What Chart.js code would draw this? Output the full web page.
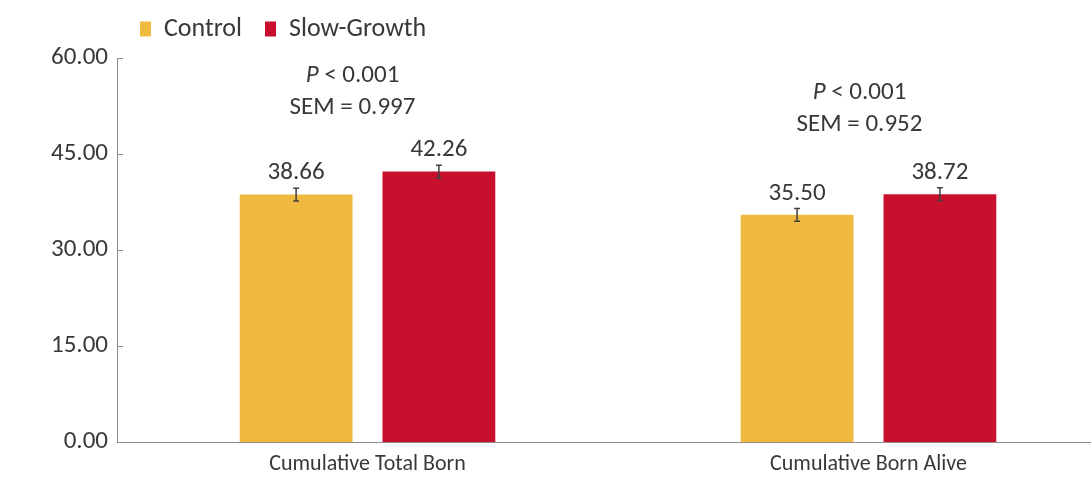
<!DOCTYPE html>
<html>
<head>
<meta charset="utf-8">
<script src="https://cdn.jsdelivr.net/npm/chart.js@4.4.1/dist/chart.umd.min.js"></script>
<style>
    html, body { margin: 0; padding: 0; background: #fff; overflow: hidden; }
    #wrap { width: 1125px; height: 486px; }
</style>
</head>
<body>
<div id="wrap"><canvas id="myChart" width="1125" height="486"></canvas></div>
<script>
// chart values
var categories = ["Cumulative Total Born", "Cumulative Born Alive"];
var seriesNames = ["Control", "Slow-Growth"];
var controlValues = [38.66, 35.50];
var slowGrowthValues = [42.26, 38.72];
var controlErr = [1.0, 1.0];
var slowGrowthErr = [1.0, 1.0];
var pLabels = ["0.001", "0.001"];
var semLabels = ["SEM = 0.997", "SEM = 0.952"];
var yTicks = [0, 15, 30, 45, 60];

var FONT = "Carlito, Lato, sans-serif";
var TEXT = "#383838";

// error bars + value labels above each bar
var barExtras = {
    id: "barExtras",
    afterDatasetsDraw: function (chart) {
        var ctx = chart.ctx;
        var y = chart.scales.y;
        var errs = [controlErr, slowGrowthErr];
        ctx.save();
        chart.data.datasets.forEach(function (ds, di) {
            chart.getDatasetMeta(di).data.forEach(function (bar, i) {
                var v = ds.data[i];
                var top = y.getPixelForValue(v + errs[di][i]);
                var bot = y.getPixelForValue(v - errs[di][i]);
                ctx.strokeStyle = "#404040";
                ctx.lineWidth = 1.5;
                ctx.beginPath();
                ctx.moveTo(bar.x, top); ctx.lineTo(bar.x, bot);
                ctx.moveTo(bar.x - 3, top); ctx.lineTo(bar.x + 3, top);
                ctx.moveTo(bar.x - 3, bot); ctx.lineTo(bar.x + 3, bot);
                ctx.stroke();
                ctx.fillStyle = TEXT;
                ctx.font = "25px " + FONT;
                ctx.textAlign = "center";
                ctx.textBaseline = "middle";
                ctx.fillText(v.toFixed(2), bar.x, top - 15);
            });
        });
        ctx.restore();
    }
};

// P / SEM notes above each group, and inside ticks on the y axis
var notes = {
    id: "notes",
    afterDraw: function (chart) {
        var ctx = chart.ctx;
        var x = chart.scales.x, y = chart.scales.y;
        var lift = [[57.3, 52.2], [54.5, 49.5]];
        var shift = [-15, -9];
        ctx.save();
        ctx.fillStyle = TEXT;
        ctx.textBaseline = "middle";
        categories.forEach(function (c, i) {
            var cx = x.getPixelForValue(i) + shift[i];
            ctx.font = "italic 25px " + FONT;
            var pw = ctx.measureText("P").width;
            ctx.font = "25px " + FONT;
            var rest = " < " + pLabels[i];
            var rw = ctx.measureText(rest).width;
            var sx = cx - (pw + rw) / 2;
            var py = y.getPixelForValue(lift[i][0]);
            ctx.textAlign = "left";
            ctx.font = "italic 25px " + FONT;
            ctx.fillText("P", sx, py);
            ctx.font = "25px " + FONT;
            ctx.fillText(rest, sx + pw, py);
            ctx.textAlign = "center";
            ctx.fillText(semLabels[i], cx, y.getPixelForValue(lift[i][1]));
        });
        ctx.strokeStyle = "#8c8c8c";
        ctx.lineWidth = 1;
        yTicks.forEach(function (t) {
            var py = Math.round(y.getPixelForValue(t)) + 0.5;
            ctx.beginPath();
            ctx.moveTo(y.right, py);
            ctx.lineTo(y.right + 6, py);
            ctx.stroke();
        });
        ctx.restore();
    }
};

// extra room between legend and plot
var legendGap = {
    id: "legendGap",
    beforeInit: function (chart) {
        var fit = chart.legend.fit;
        chart.legend.fit = function () {
            fit.bind(chart.legend)();
            this.height += 6;
        };
    }
};

window.onload = function () {
    var ctx = document.getElementById("myChart").getContext("2d");
    new Chart(ctx, {
        type: "bar",
        data: {
            labels: categories,
            datasets: [
                {
                    label: seriesNames[0],
                    data: controlValues,
                    backgroundColor: "#F0B940"
                },
                {
                    label: seriesNames[1],
                    data: slowGrowthValues,
                    backgroundColor: "#C8102E"
                }
            ]
        },
        options: {
            responsive: false,
            animation: false,
            categoryPercentage: 0.57,
            barPercentage: 0.79,
            layout: { padding: { left: 0, right: 6, top: -7, bottom: 0 } },
            plugins: {
                tooltip: { enabled: false },
                legend: {
                    position: "top",
                    align: "start",
                    fullSize: false,
                    labels: {
                        color: TEXT,
                        font: { family: FONT, size: 26 },
                        boxWidth: 11,
                        boxHeight: 15,
                        padding: 23
                    }
                }
            },
            scales: {
                x: {
                    afterFit: function (s) { s.height = 44; },
                    grid: { display: false, drawTicks: false },
                    border: { color: "#8c8c8c" },
                    ticks: {
                        color: TEXT,
                        padding: 9,
                        font: { family: FONT, size: 22 }
                    }
                },
                y: {
                    min: 0,
                    max: 60,
                    afterFit: function (s) { s.width = 117; },
                    afterBuildTicks: function (s) {
                        s.ticks = yTicks.map(function (v) { return { value: v }; });
                    },
                    grid: { display: false, drawTicks: false },
                    border: { color: "#8c8c8c" },
                    ticks: {
                        color: TEXT,
                        padding: 9,
                        font: { family: FONT, size: 25 },
                        callback: function (v) { return Number(v).toFixed(2); }
                    }
                }
            }
        },
        plugins: [barExtras, notes, legendGap]
    });
};
</script>
</body>
</html>
